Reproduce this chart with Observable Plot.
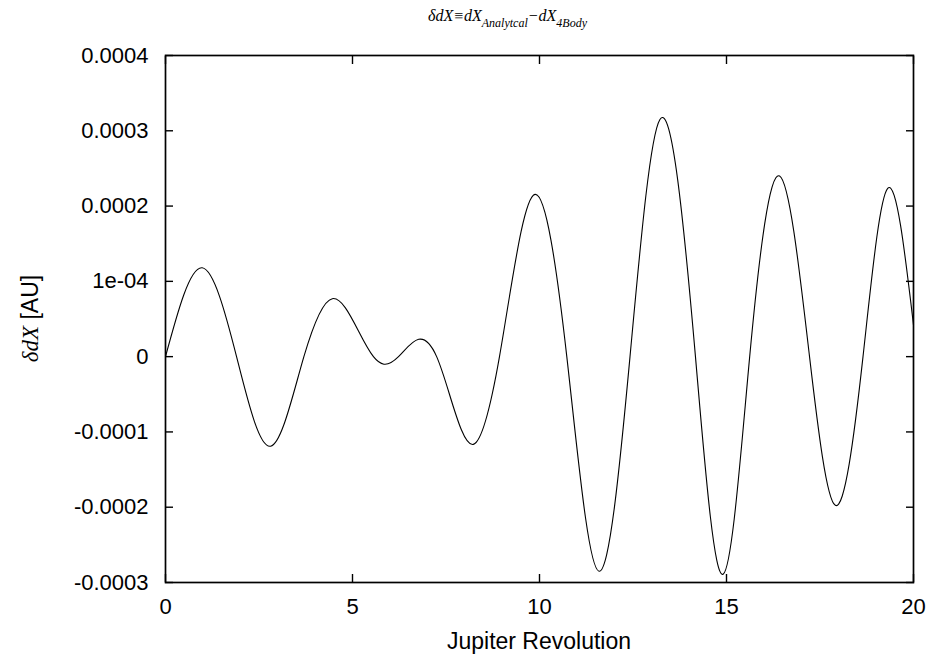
<!DOCTYPE html>
<html>
<head>
<meta charset="utf-8">
<script src="https://cdn.jsdelivr.net/npm/d3@7"></script>
<script src="https://cdn.jsdelivr.net/npm/@observablehq/plot@0.6"></script>
<style>
  html, body { margin: 0; padding: 0; background: #fff; }
  svg { display: block; }
</style>
</head>
<body>
<div id="chart"></div>
<script>
// Jupiter revolutions (x): extrema and zero crossings
const revolution = [0, 0.98, 1.90, 2.81, 3.70, 4.46, 5.56, 5.84, 6.23, 6.77, 7.25, 8.23, 8.93, 9.88,
  10.73, 11.59, 12.42, 13.22, 14.17, 14.91, 15.62, 16.42, 17.22, 17.91, 18.65, 19.31, 20];
// deltaDX [AU]
const deltaDX = [0, 1.18e-4, 0, -1.19e-4, 0, 0.77e-4, 0, -0.10e-4, 0, 0.23e-4, 0, -1.165e-4, 0, 2.155e-4,
  0, -2.85e-4, 0, 3.15e-4, 0, -2.89e-4, 0, 2.40e-4, 0, -1.975e-4, 0, 2.235e-4, 0.42e-4];

const xTicks = [0, 5, 10, 15, 20];
const yTicks = [0.0004, 0.0003, 0.0002, 0.0001, 0, -0.0001, -0.0002, -0.0003];
const yTickLabels = ["0.0004", "0.0003", "0.0002", "1e-04", "0", "-0.0001", "-0.0002", "-0.0003"];

const titleMain = ["\u03B4dX\u2261dX", "\u2212dX"];
const titleSubs = ["Analytcal", "4Body"];
const xLabel = "Jupiter Revolution";
const yLabelItalic = "\u03B4dX";
const yLabelRest = " [AU]";

const data = revolution.map((x, i) => ({x, y: deltaDX[i]}));

// Natural cubic spline parameterised by x (a d3-style curve factory for Plot)
function curveNaturalX(context) {
  let xs, ys;
  return {
    areaStart() {}, areaEnd() {},
    lineStart() { xs = []; ys = []; },
    point(x, y) { xs.push(+x); ys.push(+y); },
    lineEnd() {
      const n = xs.length;
      if (!n) return;
      context.moveTo(xs[0], ys[0]);
      if (n === 1) return;
      if (n === 2) { context.lineTo(xs[1], ys[1]); return; }
      const h = [];
      for (let i = 0; i < n - 1; i++) h.push(xs[i + 1] - xs[i]);
      const a = [], b = [], c = [], d = [];
      for (let i = 1; i < n - 1; i++) {
        a.push(h[i - 1]); b.push(2 * (h[i - 1] + h[i])); c.push(h[i]);
        d.push(6 * ((ys[i + 1] - ys[i]) / h[i] - (ys[i] - ys[i - 1]) / h[i - 1]));
      }
      const m = a.length;
      for (let i = 1; i < m; i++) {
        const w = a[i] / b[i - 1];
        b[i] -= w * c[i - 1];
        d[i] -= w * d[i - 1];
      }
      const sol = new Array(m);
      sol[m - 1] = d[m - 1] / b[m - 1];
      for (let i = m - 2; i >= 0; i--) sol[i] = (d[i] - c[i] * sol[i + 1]) / b[i];
      const M = new Array(n).fill(0);
      for (let i = 0; i < m; i++) M[i + 1] = sol[i];
      for (let i = 0; i < n - 1; i++) {
        const hi = h[i];
        const s = (ys[i + 1] - ys[i]) / hi;
        const m0 = s - hi * (2 * M[i] + M[i + 1]) / 6;
        const m1 = s + hi * (M[i] + 2 * M[i + 1]) / 6;
        context.bezierCurveTo(xs[i] + hi / 3, ys[i] + m0 * hi / 3,
                              xs[i + 1] - hi / 3, ys[i + 1] - m1 * hi / 3,
                              xs[i + 1], ys[i + 1]);
      }
    }
  };
}

const W = 933, H = 659;
const plot = Plot.plot({
  width: W,
  height: H,
  marginLeft: 165,
  marginRight: 20,
  marginTop: 55,
  marginBottom: 77,
  style: {fontFamily: "'Liberation Sans', Arial, sans-serif", fontSize: "22px", color: "#000", background: "#fff"},
  x: {domain: [0, 20]},
  y: {domain: [-0.0003, 0.0004]},
  marks: [
    Plot.axisY(yTicks, {anchor: "left", tickSize: -8, tickPadding: 25, strokeWidth: 1.4,
      tickFormat: d => yTickLabels[yTicks.indexOf(d)], label: null}),
    Plot.axisY(yTicks, {anchor: "right", tickSize: -8, strokeWidth: 1.4, tickFormat: () => "", label: null}),
    Plot.axisX(xTicks, {anchor: "bottom", tickSize: -8, tickPadding: 24, strokeWidth: 1.4, label: null}),
    Plot.axisX(xTicks, {anchor: "top", tickSize: -8, strokeWidth: 1.4, tickFormat: () => "", label: null}),
    Plot.frame({stroke: "#000", strokeWidth: 1.7}),
    Plot.line(data, {x: "x", y: "y", curve: curveNaturalX, stroke: "#000", strokeWidth: 1.1})
  ]
});

const svg = d3.select(plot);
const xs = plot.scale("x"), ys = plot.scale("y");
const cx = (xs.range[0] + xs.range[1]) / 2;
const cy = (ys.range[0] + ys.range[1]) / 2;

// Title
const serif = "'Liberation Serif', 'Times New Roman', serif";
const title = svg.append("text")
  .attr("x", 428).attr("y", 21)
  .attr("text-anchor", "start")
  .attr("font-family", serif).attr("font-style", "italic").attr("font-size", 16).attr("fill", "#000");
title.append("tspan").text(titleMain[0]);
title.append("tspan").attr("font-size", 12).attr("dy", 6).text(titleSubs[0]);
title.append("tspan").attr("font-size", 16).attr("dy", -6).text(titleMain[1]);
title.append("tspan").attr("font-size", 12).attr("dy", 6).text(titleSubs[1]);

// X label
svg.append("text")
  .attr("x", cx).attr("y", 649)
  .attr("text-anchor", "middle").attr("font-size", 23).attr("fill", "#000")
  .text(xLabel);

// Y label
const yl = svg.append("text")
  .attr("transform", `translate(38,${cy}) rotate(-90)`)
  .attr("text-anchor", "middle").attr("font-size", 23).attr("fill", "#000");
yl.append("tspan").attr("font-family", serif).attr("font-style", "italic").text(yLabelItalic);
yl.append("tspan").text(yLabelRest);

document.getElementById("chart").appendChild(plot);
</script>
</body>
</html>
